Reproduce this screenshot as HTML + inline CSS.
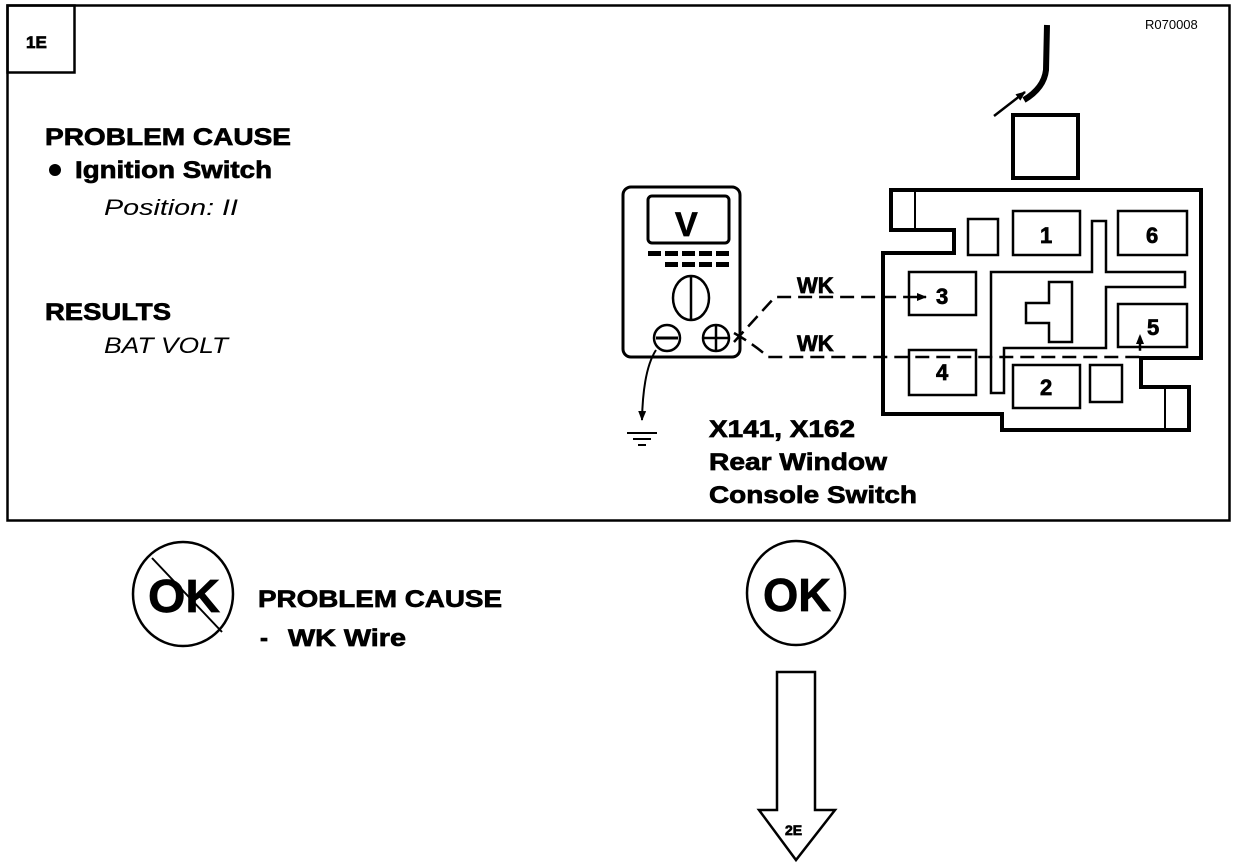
<!DOCTYPE html>
<html><head><meta charset="utf-8"><style>
html,body{margin:0;padding:0;background:#fff;}
svg{display:block;}
text{font-family:"Liberation Sans",sans-serif;font-weight:bold;fill:#000;}
.h{stroke:#000;stroke-width:0.7;}
</style></head><body>
<svg width="1248" height="868" viewBox="0 0 1248 868" xmlns="http://www.w3.org/2000/svg">
<defs>
<marker id="ah" markerWidth="10" markerHeight="8" refX="9" refY="4" orient="auto" markerUnits="userSpaceOnUse"><path d="M0,0 L10,4 L0,8 z" fill="#000"/></marker>
</defs>
<rect x="7.5" y="5.5" width="1222" height="515" fill="none" stroke="#000" stroke-width="2.5"/>
<rect x="7.5" y="5.5" width="67" height="67" fill="none" stroke="#000" stroke-width="2.5"/>
<text x="26" y="48" font-size="17" class="h">1E</text>
<text x="1145" y="29" font-size="13" style="font-weight:normal">R070008</text>

<text x="45" y="145" font-size="24" class="h" textLength="246" lengthAdjust="spacingAndGlyphs">PROBLEM CAUSE</text>
<circle cx="55" cy="170" r="6" fill="#000"/>
<text x="75" y="178" font-size="24" class="h" textLength="197" lengthAdjust="spacingAndGlyphs">Ignition Switch</text>
<text x="104" y="215" font-size="22" font-style="italic" style="font-weight:normal" textLength="134" lengthAdjust="spacingAndGlyphs">Position: II</text>
<text x="45" y="320" font-size="24" class="h" textLength="126" lengthAdjust="spacingAndGlyphs">RESULTS</text>
<text x="104" y="353" font-size="22" font-style="italic" style="font-weight:normal" textLength="124" lengthAdjust="spacingAndGlyphs">BAT VOLT</text>

<path d="M1047,25 L1046,70 Q1044,88 1024,100" fill="none" stroke="#000" stroke-width="6"/>
<line x1="994" y1="116" x2="1025" y2="92" stroke="#000" stroke-width="2.5" marker-end="url(#ah)"/>
<rect x="1013" y="115" width="65" height="63" fill="none" stroke="#000" stroke-width="4"/>

<polygon points="891,190 1201,190 1201,358 1141,358 1141,387 1189,387 1189,430 1002,430 1002,414 883,414 883,253 954,253 954,230 891,230" fill="none" stroke="#000" stroke-width="4"/>
<line x1="915" y1="192" x2="915" y2="230" stroke="#000" stroke-width="2"/>
<line x1="1165" y1="387" x2="1165" y2="430" stroke="#000" stroke-width="2"/>
<g fill="none" stroke="#000" stroke-width="2.5">
<rect x="968" y="219" width="30" height="36"/>
<rect x="1013" y="211" width="67" height="44"/>
<rect x="1118" y="211" width="69" height="44"/>
<polygon points="991,393 991,272 1092,272 1092,221 1106,221 1106,272 1185,272 1185,287 1106,287 1106,348 1004,348 1004,393"/>
<polygon points="1026,303 1049,303 1049,282 1072,282 1072,342 1049,342 1049,323 1026,323"/>
<rect x="909" y="272" width="67" height="43"/>
<rect x="1118" y="304" width="69" height="43"/>
<rect x="909" y="350" width="67" height="45"/>
<rect x="1013" y="365" width="67" height="43"/>
<rect x="1090" y="365" width="32" height="37"/>
</g>
<text x="1040" y="243" font-size="22" class="h">1</text>
<text x="1146" y="243" font-size="22" class="h">6</text>
<text x="936" y="304" font-size="22" class="h">3</text>
<text x="1147" y="335" font-size="22" class="h">5</text>
<text x="936" y="380" font-size="22" class="h">4</text>
<text x="1040" y="395" font-size="22" class="h">2</text>

<rect x="623" y="187" width="117" height="170" rx="8" fill="none" stroke="#000" stroke-width="3"/>
<rect x="648" y="196" width="81" height="47" rx="4" fill="none" stroke="#000" stroke-width="3"/>
<text x="675" y="236" font-size="34" class="h">V</text>
<g fill="#000">
<rect x="648" y="251" width="13" height="5"/><rect x="665" y="251" width="13" height="5"/><rect x="682" y="251" width="13" height="5"/><rect x="699" y="251" width="13" height="5"/><rect x="716" y="251" width="13" height="5"/>
<rect x="665" y="262" width="13" height="5"/><rect x="682" y="262" width="13" height="5"/><rect x="699" y="262" width="13" height="5"/><rect x="716" y="262" width="13" height="5"/>
</g>
<ellipse cx="691" cy="298" rx="18" ry="22" fill="none" stroke="#000" stroke-width="2.5"/>
<line x1="691" y1="277" x2="691" y2="319" stroke="#000" stroke-width="2.5"/>
<circle cx="667" cy="338" r="13" fill="none" stroke="#000" stroke-width="2.5"/>
<line x1="656" y1="338" x2="678" y2="338" stroke="#000" stroke-width="3"/>
<circle cx="716" cy="338" r="13" fill="none" stroke="#000" stroke-width="2.5"/>
<line x1="703" y1="338" x2="729" y2="338" stroke="#000" stroke-width="2.5"/>
<line x1="716" y1="325" x2="716" y2="351" stroke="#000" stroke-width="2.5"/>

<path d="M734,342 L775,297 L926,297" fill="none" stroke="#000" stroke-width="2.5" stroke-dasharray="14,7" marker-end="url(#ah)"/>
<path d="M734,333 Q755,345 768,357 L1140,357 L1140,335" fill="none" stroke="#000" stroke-width="2.5" stroke-dasharray="14,7" marker-end="url(#ah)"/>
<text x="797" y="293" font-size="22" class="h">WK</text>
<text x="797" y="351" font-size="22" class="h">WK</text>

<path d="M656,350 Q643,370 642,420" fill="none" stroke="#000" stroke-width="2" marker-end="url(#ah)"/>
<line x1="627" y1="433" x2="657" y2="433" stroke="#000" stroke-width="2"/>
<line x1="633" y1="439" x2="651" y2="439" stroke="#000" stroke-width="2"/>
<line x1="638" y1="445" x2="646" y2="445" stroke="#000" stroke-width="2"/>

<text x="709" y="437" font-size="24" class="h" textLength="146" lengthAdjust="spacingAndGlyphs">X141, X162</text>
<text x="709" y="470" font-size="24" class="h" textLength="178" lengthAdjust="spacingAndGlyphs">Rear Window</text>
<text x="709" y="503" font-size="24" class="h" textLength="208" lengthAdjust="spacingAndGlyphs">Console Switch</text>

<ellipse cx="183" cy="594" rx="50" ry="52" fill="none" stroke="#000" stroke-width="2.5"/>
<text x="148" y="612" font-size="46" class="h" textLength="72" lengthAdjust="spacingAndGlyphs">OK</text>
<line x1="152" y1="558" x2="222" y2="632" stroke="#000" stroke-width="2"/>
<text x="258" y="607" font-size="24" class="h" textLength="244" lengthAdjust="spacingAndGlyphs">PROBLEM CAUSE</text>
<text x="260" y="646" font-size="24" class="h">-</text>
<text x="288" y="646" font-size="24" class="h" textLength="118" lengthAdjust="spacingAndGlyphs">WK  Wire</text>

<ellipse cx="796" cy="593" rx="49" ry="52" fill="none" stroke="#000" stroke-width="2.5"/>
<text x="763" y="611" font-size="46" class="h" textLength="68" lengthAdjust="spacingAndGlyphs">OK</text>

<polygon points="777,672 815,672 815,810 835,810 796,860 759,810 777,810" fill="none" stroke="#000" stroke-width="2.5"/>
<text x="785" y="835" font-size="14" class="h">2E</text>
</svg>
</body></html>
